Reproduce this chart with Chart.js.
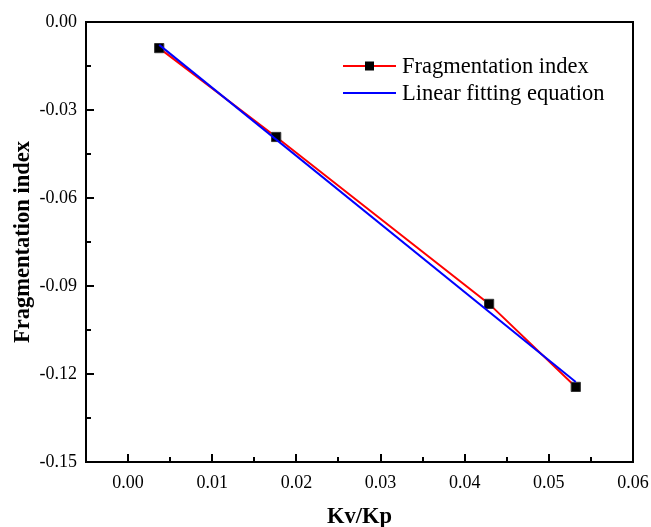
<!DOCTYPE html>
<html>
<head>
<meta charset="utf-8">
<script src="https://cdn.jsdelivr.net/npm/chart.js@4.4.0/dist/chart.umd.min.js"></script>
<style>
  html, body { margin: 0; padding: 0; background: #fff; }
  #wrap { width: 651px; height: 527px; position: relative; }
</style>
</head>
<body>
<div id="wrap"><canvas id="chart"></canvas></div>
<script>
  // measured points (Kv/Kp, fragmentation index)
  const kvkp = [0.0037, 0.0176, 0.0429, 0.0532];
  const fragIndex = [-0.0089, -0.0392, -0.0961, -0.1244];

  // fitted line end points
  const fitX = [0.0037, 0.0532];
  const fitY = [-0.0078, -0.1227];

  const xTicks = [0.00, 0.01, 0.02, 0.03, 0.04, 0.05, 0.06];
  const yTicks = [0.00, -0.03, -0.06, -0.09, -0.12, -0.15];

  const seriesNames = ['Fragmentation index', 'Linear fitting equation'];

  const FONT = '"Liberation Serif", "Times New Roman", serif';

  function toPoints(xs, ys) {
    return xs.map((x, i) => ({ x: x, y: ys[i] }));
  }

  // draws the closed frame with inward major/minor ticks
  const framePlugin = {
    id: 'frame',
    afterDraw(chart) {
      const ctx = chart.ctx;
      const a = chart.chartArea;
      const xs = chart.scales.x;
      const ys = chart.scales.y;
      ctx.save();
      ctx.strokeStyle = '#000';
      ctx.lineWidth = 2;
      ctx.strokeRect(a.left, a.top, a.right - a.left, a.bottom - a.top);

      ctx.beginPath();
      xTicks.forEach((v, i) => {
        const px = Math.round(xs.getPixelForValue(v));
        ctx.moveTo(px, a.bottom);
        ctx.lineTo(px, a.bottom - 8);
        if (i < xTicks.length - 1) {
          const m = Math.round(xs.getPixelForValue((v + xTicks[i + 1]) / 2));
          ctx.moveTo(m, a.bottom);
          ctx.lineTo(m, a.bottom - 5);
        }
      });
      yTicks.forEach((v, i) => {
        const py = Math.round(ys.getPixelForValue(v));
        ctx.moveTo(a.left, py);
        ctx.lineTo(a.left + 8, py);
        if (i < yTicks.length - 1) {
          const m = Math.round(ys.getPixelForValue((v + yTicks[i + 1]) / 2));
          ctx.moveTo(a.left, m);
          ctx.lineTo(a.left + 5, m);
        }
      });
      ctx.stroke();
      ctx.restore();
    }
  };

  // legend in the upper right, line + marker like the origin plot
  const legendPlugin = {
    id: 'originLegend',
    afterDraw(chart) {
      const ctx = chart.ctx;
      const x0 = 343, x1 = 396, tx = 402;
      const rows = [66, 93];
      ctx.save();
      ctx.font = '22.5px ' + FONT;
      ctx.textBaseline = 'middle';
      chart.data.datasets.forEach((ds, i) => {
        const y = rows[i];
        ctx.strokeStyle = ds.borderColor;
        ctx.lineWidth = 2;
        ctx.beginPath();
        ctx.moveTo(x0, y);
        ctx.lineTo(x1, y);
        ctx.stroke();
        if (ds.pointRadius > 0) {
          const s = 9;
          ctx.fillStyle = ds.pointBackgroundColor;
          ctx.fillRect(Math.round((x0 + x1) / 2 - s / 2), y - s / 2, s, s);
        }
        ctx.fillStyle = '#000';
        ctx.fillText(ds.label, tx, y + 1);
      });
      ctx.restore();
    }
  };

  new Chart(document.getElementById('chart'), {
    type: 'scatter',
    data: {
      datasets: [
        {
          label: seriesNames[0],
          data: toPoints(kvkp, fragIndex),
          showLine: true,
          borderColor: '#ff0000',
          borderWidth: 2,
          pointStyle: 'rect',
          pointRadius: 6.5,
          pointBackgroundColor: '#000000',
          pointBorderColor: '#333333',
          pointBorderWidth: 1,
          order: 1
        },
        {
          label: seriesNames[1],
          data: toPoints(fitX, fitY),
          showLine: true,
          borderColor: '#0000ff',
          borderWidth: 2,
          pointRadius: 0,
          order: 0
        }
      ]
    },
    options: {
      responsive: true,
      maintainAspectRatio: false,
      animation: false,
      layout: { padding: { left: 0, top: 22, right: 18, bottom: 0 } },
      plugins: {
        legend: { display: false },
        tooltip: { enabled: false }
      },
      scales: {
        x: {
          type: 'linear',
          min: -0.005,
          max: 0.06,
          afterBuildTicks: (s) => { s.ticks = xTicks.map(v => ({ value: v })); },
          afterFit: (s) => { s.height = 65; s.paddingLeft = 0; s.paddingRight = 0; },
          grid: { display: false, drawTicks: false },
          border: { display: false },
          ticks: {
            padding: 10,
            color: '#000',
            font: { family: FONT, size: 18 },
            maxRotation: 0,
            callback: (v) => Number(v).toFixed(2)
          },
          title: {
            display: true,
            text: 'Kv/Kp',
            color: '#000',
            font: { family: FONT, size: 22.5, weight: 'bold' },
            padding: { top: 0, bottom: -4 }
          }
        },
        y: {
          type: 'linear',
          min: -0.15,
          max: 0.00,
          afterBuildTicks: (s) => { s.ticks = yTicks.map(v => ({ value: v })); },
          afterFit: (s) => { s.width = 86; s.paddingTop = 0; s.paddingBottom = 0; },
          grid: { display: false, drawTicks: false },
          border: { display: false },
          ticks: {
            padding: 9,
            color: '#000',
            font: { family: FONT, size: 18 },
            callback: (v) => Number(v).toFixed(2)
          },
          title: {
            display: true,
            text: 'Fragmentation index',
            color: '#000',
            font: { family: FONT, size: 22.5, weight: 'bold' },
            padding: { top: 10, bottom: 0 }
          }
        }
      }
    },
    plugins: [framePlugin, legendPlugin]
  });
</script>
</body>
</html>
